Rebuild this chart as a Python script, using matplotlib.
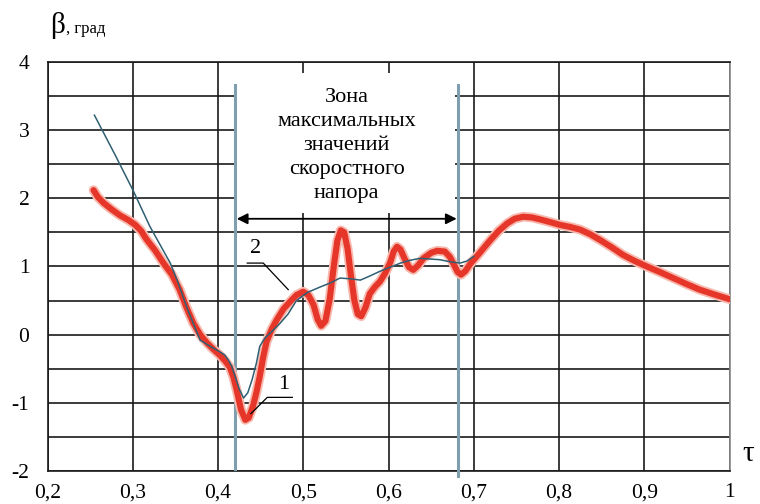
import matplotlib
matplotlib.use("Agg")
import matplotlib.pyplot as plt
from matplotlib.patches import Rectangle

# Curve 1 (red, thick)
tau1 = [0.254, 0.259, 0.266, 0.275, 0.285, 0.295, 0.303, 0.310, 0.316, 0.326, 0.336, 0.346,
        0.355, 0.363, 0.371, 0.379, 0.387, 0.395, 0.402, 0.408, 0.414, 0.418, 0.422, 0.427,
        0.432, 0.436, 0.441, 0.445, 0.449, 0.453, 0.457, 0.463, 0.469, 0.477, 0.485, 0.492,
        0.500, 0.506, 0.512, 0.517, 0.521, 0.526, 0.531, 0.536, 0.540, 0.544, 0.548, 0.552,
        0.556, 0.560, 0.564, 0.568, 0.573, 0.578, 0.584, 0.590, 0.596, 0.602, 0.606, 0.610,
        0.614, 0.619, 0.624, 0.629, 0.635, 0.641, 0.650, 0.657, 0.666, 0.672, 0.677, 0.681,
        0.685, 0.690, 0.696, 0.707, 0.719, 0.729, 0.739, 0.748, 0.758, 0.768, 0.778, 0.790,
        0.801, 0.813, 0.825, 0.837, 0.848, 0.862, 0.875, 0.889, 0.903, 0.918, 0.934, 0.950,
        0.965, 0.982, 1.0]
beta1 = [2.12, 2.02, 1.93, 1.84, 1.75, 1.68, 1.61, 1.52, 1.40, 1.24, 1.05, 0.88,
         0.66, 0.40, 0.17, 0.00, -0.12, -0.22, -0.30, -0.38, -0.48, -0.62, -0.82, -1.10,
         -1.25, -1.22, -1.05, -0.85, -0.61, -0.33, -0.10, 0.08, 0.22, 0.38, 0.49, 0.58,
         0.63, 0.58, 0.44, 0.22, 0.13, 0.20, 0.52, 1.02, 1.38, 1.53, 1.50, 1.26,
         0.86, 0.50, 0.30, 0.27, 0.40, 0.60, 0.70, 0.78, 0.90, 1.06, 1.22, 1.29,
         1.25, 1.11, 0.99, 0.95, 1.02, 1.12, 1.20, 1.23, 1.22, 1.14, 1.02, 0.92,
         0.88, 0.93, 1.04, 1.20, 1.38, 1.52, 1.63, 1.70, 1.73, 1.72, 1.69, 1.65,
         1.61, 1.58, 1.54, 1.47, 1.39, 1.28, 1.17, 1.08, 1.00, 0.92, 0.83, 0.74,
         0.66, 0.59, 0.52]

# Curve 2 (thin, dark)
tau2 = [0.255, 0.280, 0.301, 0.320, 0.344, 0.352, 0.365, 0.379, 0.392, 0.402, 0.408, 0.412,
        0.416, 0.420, 0.425, 0.430, 0.435, 0.440, 0.445, 0.449, 0.455, 0.461, 0.473, 0.482,
        0.492, 0.505, 0.520, 0.532, 0.543, 0.555, 0.567, 0.578, 0.590, 0.602, 0.614, 0.625,
        0.637, 0.648, 0.660, 0.672, 0.684, 0.692, 0.700]
beta2 = [3.22, 2.62, 2.10, 1.59, 1.05, 0.80, 0.35, -0.08, -0.18, -0.25, -0.30, -0.37,
         -0.46, -0.61, -0.80, -0.93, -0.85, -0.66, -0.42, -0.17, -0.05, 0.02, 0.17, 0.30,
         0.50, 0.62, 0.70, 0.76, 0.83, 0.82, 0.80, 0.86, 0.93, 0.99, 1.05, 1.09,
         1.12, 1.11, 1.10, 1.07, 1.05, 1.08, 1.15]

xticks = [0.2, 0.3, 0.4, 0.5, 0.6, 0.7, 0.8, 0.9, 1.0]
xticklabels = ["0,2", "0,3", "0,4", "0,5", "0,6", "0,7", "0,8", "0,9", "1"]
yticks = [-2, -1, 0, 1, 2, 3, 4]
zone = [0.42, 0.682]
zone_text = "Зона\nмаксимальных\nзначений\nскоростного\nнапора"

serif = ["Liberation Serif", "DejaVu Serif"]
plt.rcParams['font.family'] = serif
plt.rcParams['axes.unicode_minus'] = False

fig = plt.figure(figsize=(7.6, 5.04), dpi=100)
ax = fig.add_axes([0.0625, 0.0655, 0.8974, 0.8115])
ax.set_xlim(0.2, 1.0)
ax.set_ylim(-2, 4)
ax.set_xticks(xticks)
ax.set_xticklabels(xticklabels)
ax.set_yticks(yticks)
ax.set_yticks([-1.5, -0.5, 0.5, 1.5, 2.5, 3.5], minor=True)
ax.grid(True, which='both', color='#1a1a1a', linewidth=1.2)
ax.tick_params(which='both', length=0, labelsize=15.5)
ax.tick_params(axis='x', pad=9)
ax.tick_params(axis='y', pad=13)
for s in ax.spines.values():
    s.set_color('#1a1a1a')
    s.set_linewidth(1.2)
ax.spines['right'].set_color('#888888')

# white box for text
ax.add_patch(Rectangle((0.4223, 1.786), 0.2557, 2.055, facecolor='white',
                       edgecolor='none', zorder=2.5))
ax.text(0.551, 2.77, zone_text, ha='center', va='center', fontsize=16,
        linespacing=1.36, zorder=3)

# zone vertical lines
ax.plot([zone[0], zone[0]], [3.66, -2.0], color='#7f9fae', lw=2.2, zorder=3.2)
ax.plot([zone[1], zone[1]], [3.66, -2.08], color='#7f9fae', lw=2.2, zorder=3.2,
        clip_on=False)

# arrow
ax.annotate('', xy=(zone[0] + 0.002, 1.70), xytext=(zone[1] - 0.002, 1.70),
            arrowprops=dict(arrowstyle='<|-|>', color='black', lw=1.3,
                            mutation_scale=16, shrinkA=0, shrinkB=0), zorder=4)

# curves
ax.plot(tau1, beta1, color='#f7b8ad', lw=7.0, solid_joinstyle='round',
        solid_capstyle='round', zorder=4)
ax.plot(tau1, beta1, color='#e6362a', lw=4.4, solid_joinstyle='round',
        solid_capstyle='round', zorder=4.1)
ax.plot(tau2, beta2, color='#2f5f72', lw=1.1, zorder=4.3)

# leaders and labels
ax.plot([0.4343, 0.4531, 0.4824], [1.05, 1.05, 0.66], color='black', lw=0.9, zorder=4.5)
ax.text(0.4445, 1.12, "2", fontsize=16, ha='center', va='bottom', zorder=5)
ax.plot([0.4385, 0.4578, 0.4872], [-1.16, -0.92, -0.92], color='black', lw=0.9, zorder=4.5)
ax.text(0.4775, -0.87, "1", fontsize=16, ha='center', va='bottom', zorder=5)

# axis titles
fig.text(0.066, 0.935, "β", fontsize=21, ha='left', va='baseline')
fig.text(0.087, 0.935, ", град", fontsize=12, ha='left', va='baseline')
fig.text(0.984, 0.085, "τ", fontsize=21, ha='center', va='baseline')

fig.savefig("out.png", dpi=100)
